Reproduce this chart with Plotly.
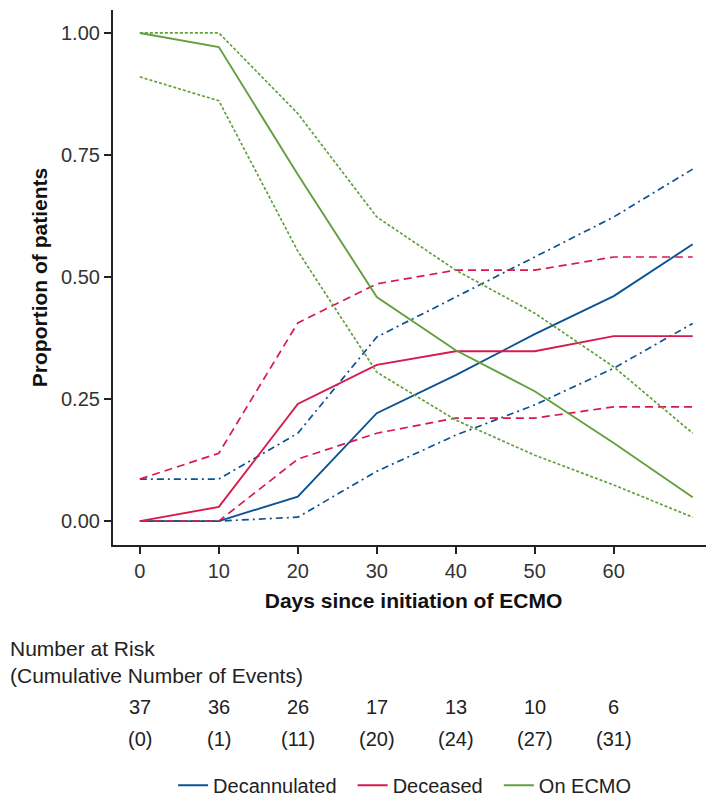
import plotly.graph_objects as go

days = [0, 10, 20, 30, 40, 50, 60, 70]

decann_est = [0.0, 0.0, 0.050, 0.221, 0.299, 0.383, 0.461, 0.567]
decann_lo = [0.0, 0.0, 0.008, 0.102, 0.176, 0.238, 0.313, 0.405]
decann_hi = [0.086, 0.086, 0.180, 0.377, 0.459, 0.541, 0.623, 0.721]

dec_est = [0.0, 0.029, 0.240, 0.320, 0.348, 0.348, 0.379, 0.379]
dec_lo = [0.0, 0.0, 0.127, 0.180, 0.211, 0.211, 0.234, 0.234]
dec_hi = [0.086, 0.139, 0.406, 0.486, 0.514, 0.514, 0.541, 0.541]

ecmo_est = [1.0, 0.971, 0.710, 0.459, 0.350, 0.266, 0.160, 0.049]
ecmo_lo = [0.91, 0.861, 0.553, 0.305, 0.207, 0.135, 0.074, 0.008]
ecmo_hi = [1.0, 1.0, 0.835, 0.623, 0.514, 0.426, 0.316, 0.180]

risk_days = [0, 10, 20, 30, 40, 50, 60]
at_risk = [37, 36, 26, 17, 13, 10, 6]
cum_events = [0, 1, 11, 20, 24, 27, 31]

y_ticks = [0, 0.25, 0.5, 0.75, 1.0]
y_tick_text = ["0.00", "0.25", "0.50", "0.75", "1.00"]
x_ticks = [0, 10, 20, 30, 40, 50, 60]

BLUE = "#0b5392"
RED = "#d71a4d"
GREEN = "#62a03e"

NBSP = "\u00a0"
groups = [
    ("Decannulated", BLUE, decann_est, decann_lo, decann_hi, "7px,4px,2px,4px"),
    ("Deceased", RED, dec_est, dec_lo, dec_hi, "8px,5px"),
    ("On ECMO", GREEN, ecmo_est, ecmo_lo, ecmo_hi, "3px,2px"),
]

fig = go.Figure()
for name, col, est, lo, hi, dash in groups:
    for b in (lo, hi):
        fig.add_trace(go.Scatter(x=days, y=b, mode="lines", showlegend=False,
                                 legendgroup=name,
                                 line=dict(color=col, width=1.7, dash=dash)))
    fig.add_trace(go.Scatter(x=days, y=est, mode="lines",
                             name=name + NBSP * 2,
                             legendgroup=name,
                             line=dict(color=col, width=1.9)))

FONT = "Liberation Sans, Arial, sans-serif"
TXT = "#222"

# Number at risk table
ann = []
for d, n, e in zip(risk_days, at_risk, cum_events):
    ann.append(dict(x=d, y=-0.327, xref="x", yref="paper", text=str(n),
                    showarrow=False, font=dict(size=20, color=TXT)))
    ann.append(dict(x=d, y=-0.387, xref="x", yref="paper", text="(%d)" % e,
                    showarrow=False, font=dict(size=20, color=TXT)))
ann.append(dict(x=-0.1747, y=-0.219, xref="paper", yref="paper",
                text="Number at Risk", showarrow=False, xanchor="left",
                font=dict(size=21, color=TXT)))
ann.append(dict(x=-0.1747, y=-0.269, xref="paper", yref="paper",
                text="(Cumulative Number of Events)", showarrow=False,
                xanchor="left", font=dict(size=21, color=TXT)))

fig.update_layout(
    width=714, height=805,
    margin=dict(l=105, r=8, t=2, b=268),
    plot_bgcolor="white", paper_bgcolor="white",
    font=dict(family=FONT, color=TXT),
    annotations=ann,
    legend=dict(orientation="h", x=0.1, xanchor="left", y=-0.449,
                yanchor="middle", font=dict(size=20, color=TXT),
                itemwidth=30, traceorder="normal"),
    xaxis=dict(range=[-3.4, 72.7], tickvals=x_ticks, showgrid=False,
               zeroline=False, showline=True, linecolor="#222", linewidth=2.2,
               ticks="outside", ticklen=7, tickwidth=1.5, tickcolor="#222",
               tickfont=dict(size=20, color="#333"),
               title=dict(text="<b>Days since initiation of ECMO</b>",
                          font=dict(size=21, color="#111"), standoff=12)),
    yaxis=dict(range=[-0.049, 1.047], tickvals=y_ticks, ticktext=y_tick_text,
               showgrid=False, zeroline=False, showline=True, linecolor="#222",
               linewidth=2.2, ticks="outside", ticklen=7, tickwidth=1.5,
               tickcolor="#222", tickfont=dict(size=20, color="#333"),
               title=dict(text="<b>Proportion of patients</b>",
                          font=dict(size=21, color="#111"), standoff=8)),
)

fig.write_html("out.html")
